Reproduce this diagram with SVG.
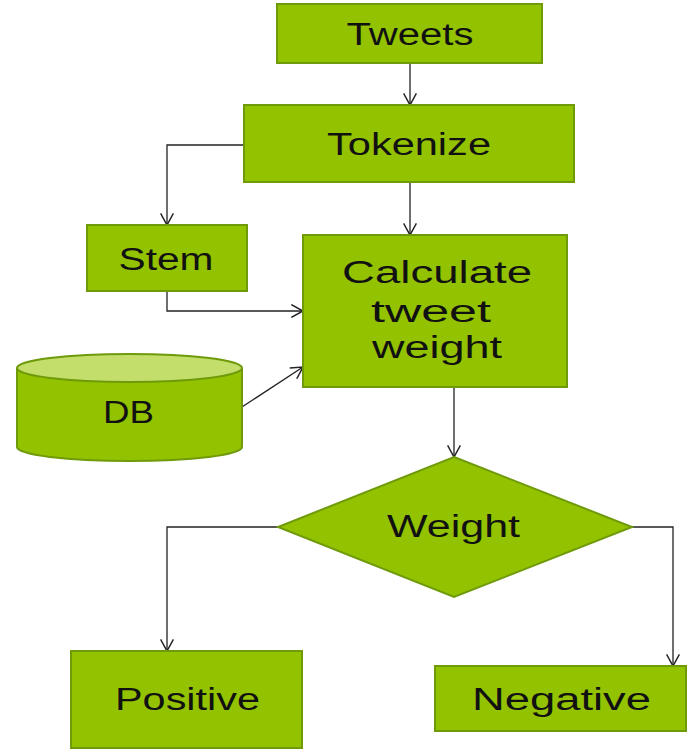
<svg xmlns="http://www.w3.org/2000/svg" width="699" height="749" viewBox="0 0 699 749">
<defs>
<style>
.box{fill:#93c200;stroke:#6f9a0a;stroke-width:2}
.top{fill:#c3de6b;stroke:#6f9a0a;stroke-width:2}
.lbl{font-family:"Liberation Sans",Arial,sans-serif;font-size:31px;fill:#111;text-anchor:middle}
.c{fill:none;stroke:#222;stroke-width:1.3}
</style>
<marker id="arr" markerUnits="userSpaceOnUse" markerWidth="14" markerHeight="14" viewBox="0 0 10 12" refX="10" refY="6" orient="auto">
<path d="M0,0.5 L10,6 L0,11.5" fill="none" stroke="#222" stroke-width="1.3"/>
</marker>
</defs>
<rect width="699" height="749" fill="#fff"/>
<g id="connectors">
<path class="c" d="M410,63 V105" marker-end="url(#arr)"/>
<path class="c" d="M244,145 H167 V225" marker-end="url(#arr)"/>
<path class="c" d="M410,182 V235" marker-end="url(#arr)"/>
<path class="c" d="M167,291 V311 H303" marker-end="url(#arr)"/>
<path class="c" d="M242,407 L303,367" marker-end="url(#arr)"/>
<path class="c" d="M454,387 V457" marker-end="url(#arr)"/>
<path class="c" d="M278,527 H167 V651" marker-end="url(#arr)"/>
<path class="c" d="M632,527 H673 V666" marker-end="url(#arr)"/>
</g>
<g id="tweets">
<rect class="box" x="277" y="4" width="265" height="59"/>
<text class="lbl" x="410" y="45" textLength="127" lengthAdjust="spacingAndGlyphs">Tweets</text>
</g>
<g id="tokenize">
<rect class="box" x="244" y="105" width="330" height="77"/>
<text class="lbl" x="409" y="155" textLength="164" lengthAdjust="spacingAndGlyphs">Tokenize</text>
</g>
<g id="stem">
<rect class="box" x="87" y="225" width="160" height="66"/>
<text class="lbl" x="166" y="270" textLength="95" lengthAdjust="spacingAndGlyphs">Stem</text>
</g>
<g id="calculate">
<rect class="box" x="303" y="235" width="264" height="152"/>
<text class="lbl" x="437" y="283" textLength="190" lengthAdjust="spacingAndGlyphs">Calculate</text>
<text class="lbl" x="431" y="322" textLength="120" lengthAdjust="spacingAndGlyphs">tweet</text>
<text class="lbl" x="437" y="358" textLength="130" lengthAdjust="spacingAndGlyphs">weight</text>
</g>
<g id="db">
<path class="box" d="M17,368 V447 A112.5,14 0 0 0 242,447 V368"/>
<ellipse class="top" cx="129.5" cy="368" rx="112.5" ry="14"/>
<text class="lbl" x="128.5" y="423" textLength="51" lengthAdjust="spacingAndGlyphs">DB</text>
</g>
<g id="weight">
<polygon class="box" points="454,457 632,527 454,597 278,527"/>
<text class="lbl" x="453.5" y="537" textLength="133" lengthAdjust="spacingAndGlyphs">Weight</text>
</g>
<g id="positive">
<rect class="box" x="71" y="651" width="231" height="97"/>
<text class="lbl" x="187.5" y="710" textLength="145" lengthAdjust="spacingAndGlyphs">Positive</text>
</g>
<g id="negative">
<rect class="box" x="435" y="666" width="251" height="65"/>
<text class="lbl" x="561.5" y="710" textLength="179" lengthAdjust="spacingAndGlyphs">Negative</text>
</g>
</svg>
